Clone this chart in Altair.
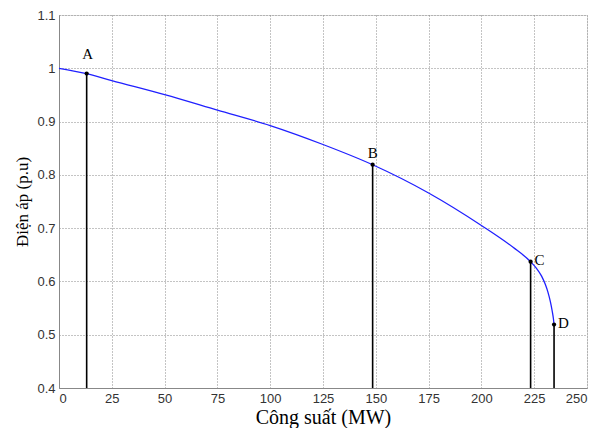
import altair as alt
import pandas as pd

curve_x = [0, 13.1, 25, 50, 75, 100, 125, 148.5, 175, 200, 215, 223.3, 226, 228.5, 230.2, 231.5, 232.6, 233.5, 234.1, 234.4]
curve_y = [1.0, 0.990, 0.977, 0.9505, 0.9215, 0.8925, 0.857, 0.819, 0.766, 0.705, 0.664, 0.637, 0.625, 0.610, 0.595, 0.580, 0.563, 0.545, 0.530, 0.519]

pt_names = ["A", "B", "C", "D"]
pt_x = [13.1, 148.5, 223.3, 234.4]
pt_y = [0.990, 0.819, 0.637, 0.519]
base_y = 0.4

x_ticks = [0, 25, 50, 75, 100, 125, 150, 175, 200, 225, 250]
y_ticks = [0.4, 0.5, 0.6, 0.7, 0.8, 0.9, 1.0, 1.1]

curve = pd.DataFrame({"x": curve_x, "y": curve_y})
pts = pd.DataFrame({"name": pt_names, "x": pt_x, "y": pt_y, "y0": [base_y] * 4})

xs = alt.Scale(domain=[0, 250], nice=False, zero=False)
ys = alt.Scale(domain=[0.4, 1.1], nice=False, zero=False)

xax = alt.Axis(values=x_ticks, title="Công suất (MW)", grid=True, gridDash=[1, 2],
               gridColor="#888", gridWidth=1, domainColor="#888", tickSize=0,
               labelFont="Liberation Sans", labelFontSize=13, labelColor="#333",
               labelPadding=4, titleFont="Liberation Serif", titleFontSize=20,
               titleFontWeight="normal", titleColor="#000", titlePadding=2)
yax = alt.Axis(values=y_ticks, title="Điện áp (p.u)", grid=True, gridDash=[1, 2],
               gridColor="#888", gridWidth=1, domainColor="#888", tickSize=0,
               labelFont="Liberation Sans", labelFontSize=13, labelColor="#333",
               labelPadding=4, titleFont="Liberation Serif", titleFontSize=17,
               titleFontWeight="normal", titleColor="#000", titlePadding=5,
               labelExpr="datum.value == 1 ? '1' : format(datum.value, '.1f')")

line = alt.Chart(curve).mark_line(color="#2020ff", strokeWidth=1.3, interpolate="monotone").encode(
    x=alt.X("x:Q", scale=xs, axis=xax),
    y=alt.Y("y:Q", scale=ys, axis=yax),
)

rules = alt.Chart(pts).mark_rule(color="#000", strokeWidth=1.6).encode(
    x=alt.X("x:Q", scale=xs), y=alt.Y("y0:Q", scale=ys), y2="y:Q"
)

dots = alt.Chart(pts).mark_circle(color="#000", size=18, opacity=1).encode(
    x=alt.X("x:Q", scale=xs), y=alt.Y("y:Q", scale=ys)
)

font = dict(font="Liberation Serif", fontSize=15, color="#000")
lab_a = alt.Chart(pts[pts.name == "A"]).mark_text(align="center", baseline="middle", dx=1, dy=-20, **font).encode(
    x=alt.X("x:Q", scale=xs), y=alt.Y("y:Q", scale=ys), text="name:N"
)
lab_b = alt.Chart(pts[pts.name == "B"]).mark_text(align="center", baseline="middle", dy=-12, **font).encode(
    x=alt.X("x:Q", scale=xs), y=alt.Y("y:Q", scale=ys), text="name:N"
)
lab_c = alt.Chart(pts[pts.name.isin(["C", "D"])]).mark_text(align="left", baseline="middle", dx=4, dy=-2, **font).encode(
    x=alt.X("x:Q", scale=xs), y=alt.Y("y:Q", scale=ys), text="name:N"
)

chart = alt.layer(line, rules, dots, lab_a, lab_b, lab_c).properties(
    width=528, height=373,
    autosize=alt.AutoSizeParams(type="none"),
    padding={"left": 51, "top": 7, "right": 4, "bottom": 40},
).configure_view(stroke="#888", strokeWidth=1).configure(background="white")

chart.save("out.html", embed_options={"renderer": "svg", "actions": False})
